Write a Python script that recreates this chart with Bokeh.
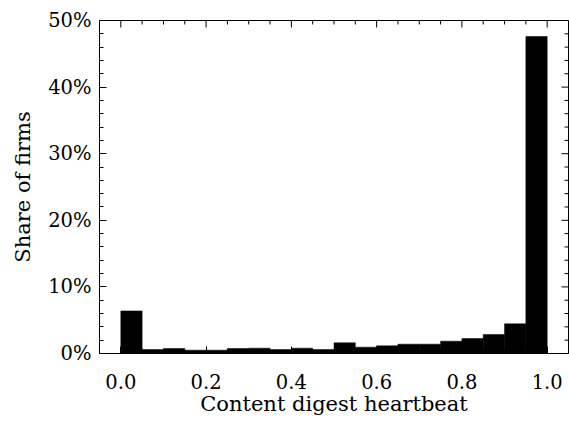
import math
from bokeh.plotting import figure
from bokeh.models import (Range1d, FixedTicker, NumeralTickFormatter,
                          PrintfTickFormatter, LinearAxis, ColumnDataSource)
from bokeh.embed import file_html
from bokeh.resources import INLINE

# histogram bins (20 bins of width 0.05 on [0, 1])
bin_left = [0.00, 0.05, 0.10, 0.15, 0.20, 0.25, 0.30, 0.35, 0.40, 0.45,
            0.50, 0.55, 0.60, 0.65, 0.70, 0.75, 0.80, 0.85, 0.90, 0.95]
bin_right = [0.05, 0.10, 0.15, 0.20, 0.25, 0.30, 0.35, 0.40, 0.45, 0.50,
             0.55, 0.60, 0.65, 0.70, 0.75, 0.80, 0.85, 0.90, 0.95, 1.00]
share = [0.064, 0.006, 0.0075, 0.005, 0.005, 0.0075, 0.008, 0.006, 0.008, 0.006,
         0.016, 0.0095, 0.0115, 0.014, 0.014, 0.0185, 0.0225, 0.0285, 0.0445, 0.476]

x_ticks = [0.0, 0.2, 0.4, 0.6, 0.8, 1.0]
x_minor = [0.05, 0.1, 0.15, 0.25, 0.3, 0.35, 0.45, 0.5,
           0.55, 0.65, 0.7, 0.75, 0.85, 0.9, 0.95]
y_ticks = [0.0, 0.1, 0.2, 0.3, 0.4, 0.5]
y_minor = [0.02, 0.04, 0.06, 0.08, 0.12, 0.14, 0.16, 0.18,
           0.22, 0.24, 0.26, 0.28, 0.32, 0.34, 0.36, 0.38,
           0.42, 0.44, 0.46, 0.48]

FONT = "DejaVu Serif"
X_LO, X_HI = -0.05, 1.05
Y_LO, Y_HI = 0.0, 0.5

src = ColumnDataSource(dict(left=bin_left, right=bin_right, top=share))

p = figure(width=569, height=422, output_backend="svg", toolbar_location=None,
           x_range=Range1d(X_LO, X_HI), y_range=Range1d(Y_LO, Y_HI),
           x_axis_location=None, y_axis_location=None)
p.min_border_left = 99
p.min_border_right = 1
p.min_border_top = 20
p.min_border_bottom = 69
p.background_fill_color = "white"
p.border_fill_color = "white"
p.outline_line_color = "black"
p.outline_line_width = 1
p.xgrid.visible = False
p.ygrid.visible = False

p.quad(left="left", right="right", top="top", bottom=0, source=src,
       fill_color="black", line_color="black", line_width=0.5)


def style(ax):
    ax.axis_line_color = "black"
    ax.axis_line_width = 1
    ax.major_tick_in = 7
    ax.major_tick_out = 0
    ax.minor_tick_in = 4
    ax.minor_tick_out = 0
    ax.major_tick_line_color = "black"
    ax.minor_tick_line_color = "black"
    ax.major_label_text_font = FONT
    ax.major_label_text_color = "black"
    ax.major_label_text_font_size = "19.5px"
    ax.axis_label_text_font = FONT
    ax.axis_label_text_font_style = "normal"
    ax.axis_label_text_color = "black"
    ax.axis_label_text_font_size = "21px"


xb = LinearAxis(ticker=FixedTicker(ticks=x_ticks, minor_ticks=x_minor),
                formatter=PrintfTickFormatter(format="%.1f"),
                axis_label="Content digest heartbeat")
style(xb)
xb.major_label_standoff = 20
xb.axis_label_standoff = 0
p.add_layout(xb, "below")

yl = LinearAxis(ticker=FixedTicker(ticks=y_ticks, minor_ticks=y_minor),
                formatter=NumeralTickFormatter(format="0%"),
                axis_label="Share of firms")
style(yl)
yl.major_label_standoff = 8
yl.axis_label_standoff = 10
p.add_layout(yl, "left")

# inward ticks on the top and right frame edges (half of each dash is clipped by the frame)
p.scatter(x=x_ticks, y=[Y_HI] * len(x_ticks), marker="dash", angle=math.pi / 2,
          size=14, line_color="black", line_width=1)
p.scatter(x=x_minor, y=[Y_HI] * len(x_minor), marker="dash", angle=math.pi / 2,
          size=8, line_color="black", line_width=1)
p.scatter(x=[X_HI] * len(y_ticks), y=y_ticks, marker="dash",
          size=14, line_color="black", line_width=1)
p.scatter(x=[X_HI] * len(y_minor), y=y_minor, marker="dash",
          size=8, line_color="black", line_width=1)

open("out.html", "w").write(file_html(p, INLINE))
